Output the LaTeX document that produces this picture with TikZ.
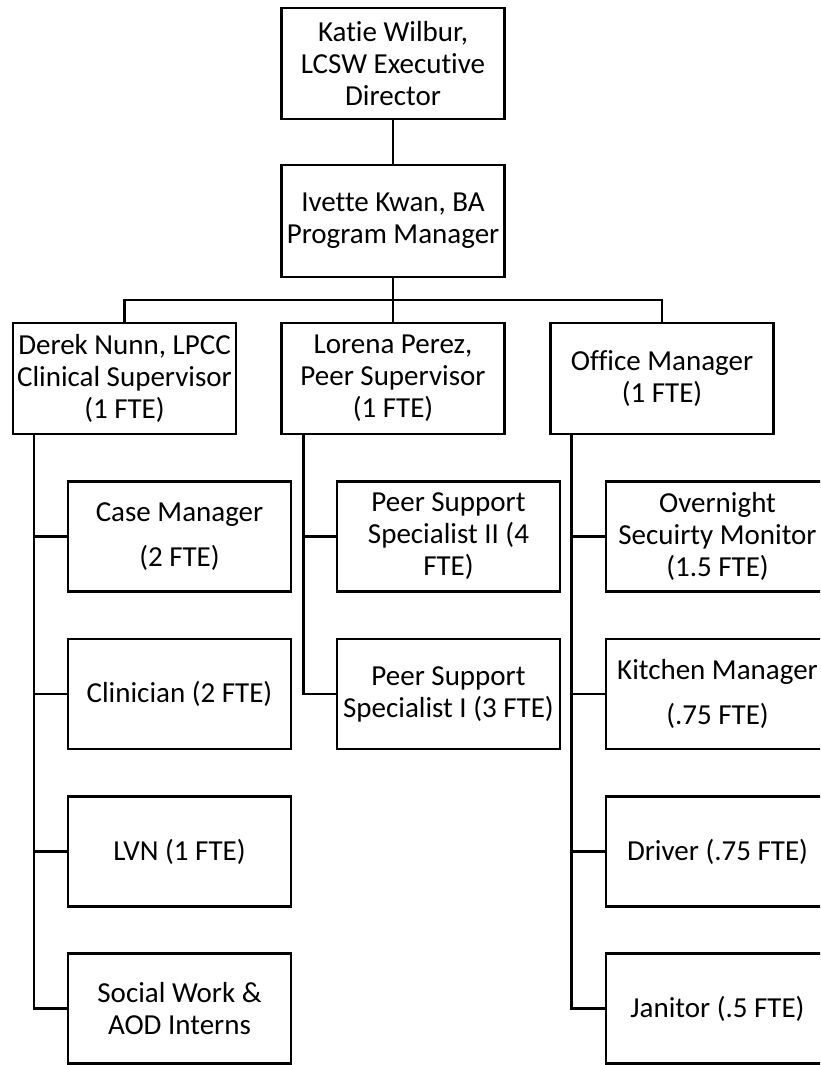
\documentclass[tikz,border=0pt]{standalone}
\usepackage{fontspec}
\setmainfont{Carlito}[Ligatures=NoCommon]
\begin{document}
\begin{tikzpicture}[x=1pt,y=-1pt,
  box/.style={draw, line width=2.4pt, inner sep=0pt, align=center,
    minimum width=223pt, minimum height=111pt,
    font=\fontsize{29}{32}\selectfont},
  staff/.style={box, minimum height=110pt},
  link/.style={line width=2.4pt}]
\useasboundingbox (0,0) rectangle (820,1065);
\fill[white] (0,0) rectangle (820,1065);
\clip (0,0) rectangle (820,1065);

% leadership
\node[box] (ed) at (393,63.5) {Katie Wilbur,\\LCSW Executive\\Director};
\node[box, minimum height=112pt] (pm) at (393,221) {Ivette Kwan, BA\\Program Manager};

% supervisors
\node[box] (dc) at (124.5,378.5) {Derek Nunn, LPCC\\Clinical Supervisor\\(1 FTE)};
\node[box] (lp) at (393,378.5) {Lorena Perez,\\Peer Supervisor\\(1 FTE)};
\node[box] (om) at (662,378.5) {Office Manager\\(1 FTE)};

% clinical staff
\node[staff] (cm) at (179.5,536.5) {Case Manager\\[13pt](2 FTE)};
\node[staff] (cl) at (179.5,694) {Clinician (2 FTE)};
\node[staff] (lvn) at (179.5,851.5) {LVN (1 FTE)};
\node[staff] (sw) at (179.5,1008.5) {Social Work \&\\AOD Interns};

% peer staff
\node[staff] (ps2) at (448.5,536.5) {Peer Support\\Specialist II (4\\FTE)};
\node[staff] (ps1) at (448.5,694) {Peer Support\\Specialist I (3 FTE)};

% operations staff
\node[staff] (osm) at (717.5,536.5) {Overnight\\Secuirty Monitor\\(1.5 FTE)};
\node[staff] (km) at (717.5,694) {Kitchen Manager\\[13pt](.75 FTE)};
\node[staff] (dr) at (717.5,851.5) {Driver (.75 FTE)};
\node[staff] (jn) at (717.5,1008.5) {Janitor (.5 FTE)};

% top links
\coordinate (bus) at (393,300);
\draw[link] (ed) -- (pm);
\draw[link] (pm) -- (bus);
\draw[link] (dc.north) |- (bus) -| (om.north);
\draw[link] (bus) -- (lp.north);

% trunks down each column
\coordinate (dcT) at ([xshift=22pt]dc.south west);
\coordinate (lpT) at ([xshift=23pt]lp.south west);
\coordinate (omT) at ([xshift=22pt]om.south west);

\draw[link] (dcT) |- (sw.west);
\foreach \n in {cm,cl,lvn} \draw[link] (\n.west) -- (\n.west -| dcT);

\draw[link] (lpT) |- (ps1.west);
\draw[link] (ps2.west) -- (ps2.west -| lpT);

\draw[link] (omT) |- (jn.west);
\foreach \n in {osm,km,dr} \draw[link] (\n.west) -- (\n.west -| omT);
\end{tikzpicture}
\end{document}
